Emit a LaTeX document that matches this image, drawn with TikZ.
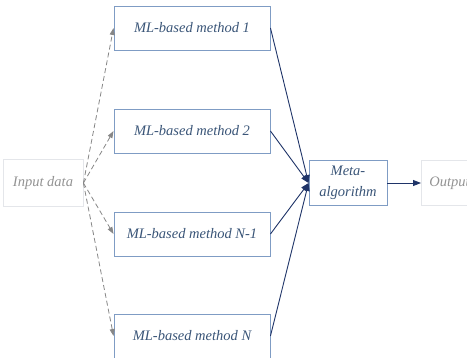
\documentclass[tikz,border=0pt]{standalone}
\usepackage{fontspec}
\setmainfont{Liberation Serif}
\usetikzlibrary{arrows.meta}
\definecolor{boxline}{HTML}{7F9CC4}
\definecolor{boxtext}{HTML}{3A5578}
\definecolor{navy}{HTML}{1F3468}
\definecolor{faint}{HTML}{E4E6EA}
\tikzset{
  x=1pt, y=-1pt,
  labelfont/.style={font=\itshape\fontsize{14.5}{21}\selectfont},
  method/.style={draw=boxline, line width=0.9pt, fill=white, minimum width=156pt,
    minimum height=44pt, inner sep=0pt, labelfont, text=boxtext},
  metabox/.style={draw=boxline, line width=0.9pt, fill=white, minimum width=78pt,
    minimum height=45pt, inner sep=0pt, align=center, labelfont, text=boxtext},
  ghost/.style={draw=faint, line width=0.8pt, fill=white, inner sep=0pt,
    labelfont, text=gray!85},
  feed/.style={draw=gray!95, dash pattern=on 5pt off 3pt, line width=0.8pt,
    -{Triangle[length=7pt,width=5pt]}},
  merge/.style={draw=navy, line width=0.9pt, -{Triangle[length=8pt,width=6pt]}}
}
\begin{document}
\begin{tikzpicture}
\useasboundingbox (0,0) rectangle (467,357);
% input and output
\node[ghost, minimum width=80pt, minimum height=47pt] (in) at (43,183) {Input data};
\node[ghost, minimum width=60pt, minimum height=45pt, anchor=west, text width=50pt] (out) at (421,183) {\hspace*{3pt}Output};
% the individual learners
\node[method] (m1) at (192,28) {ML-based method 1};
\node[method] (m2) at (192,131) {ML-based method 2};
\node[method] (m3) at (192,234) {ML-based method N-1};
\node[method] (m4) at (192,336) {ML-based method N};
% combiner
\node[metabox] (meta) at (348,183) {Meta-\\algorithm};
% connectors
\foreach \m in {m1,m2,m3,m4} {
  \draw[feed] (in.east) -- (\m.west);
  \draw[merge] (\m.east) -- (meta.west);
}
\draw[merge] (meta.east) -- (out.west);
\end{tikzpicture}
\end{document}
